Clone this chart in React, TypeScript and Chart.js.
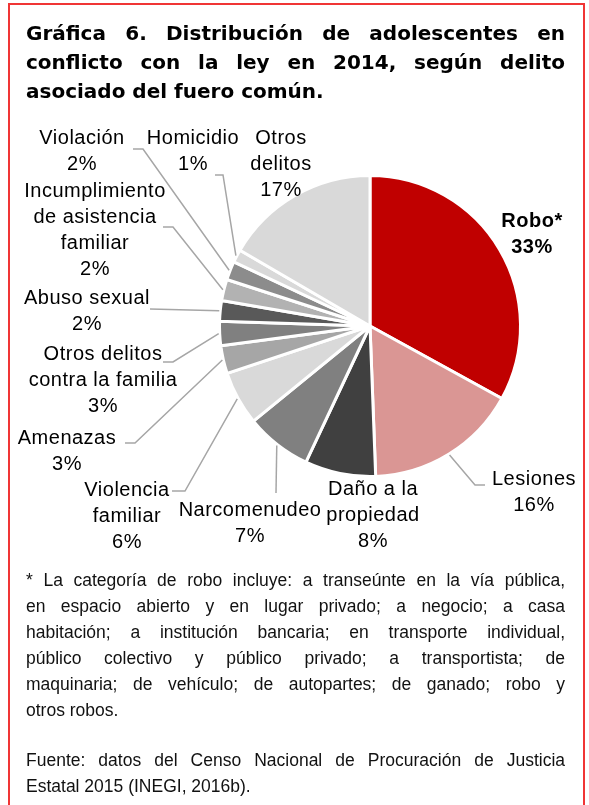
import React, { useEffect, useRef } from 'react';
import { Chart, ArcElement, PieController } from 'chart.js';

Chart.register(ArcElement, PieController);

// ---- Data ----
const categories = [
  'Robo*',
  'Lesiones',
  'Daño a la propiedad',
  'Narcomenudeo',
  'Violencia familiar',
  'Amenazas',
  'Otros delitos contra la familia',
  'Abuso sexual',
  'Incumplimiento de asistencia familiar',
  'Violación',
  'Homicidio',
  'Otros delitos',
];
const values = [33.0, 16.4, 7.6, 7.1, 5.8, 3.0, 2.6, 2.2, 2.3, 2.0, 1.4, 16.6];
const labelLines = [
  ['Robo*'],
  ['Lesiones'],
  ['Daño a la', 'propiedad'],
  ['Narcomenudeo'],
  ['Violencia', 'familiar'],
  ['Amenazas'],
  ['Otros delitos', 'contra la familia'],
  ['Abuso sexual'],
  ['Incumplimiento', 'de asistencia', 'familiar'],
  ['Violación'],
  ['Homicidio'],
  ['Otros', 'delitos'],
];
const titleLines = [
  'Gráfica 6. Distribución de adolescentes en',
  'conflicto con la ley en 2014, según delito',
  'asociado del fuero común.',
];
const noteLines = [
  '* La categoría de robo incluye: a transeúnte en la vía pública,',
  'en espacio abierto y en lugar privado; a negocio; a casa',
  'habitación; a institución bancaria; en transporte individual,',
  'público colectivo y público privado; a transportista; de',
  'maquinaria; de vehículo; de autopartes; de ganado; robo y',
  'otros robos.',
];
const sourceLines = [
  'Fuente: datos del Censo Nacional de Procuración de Justicia',
  'Estatal 2015 (INEGI, 2016b).',
];

// ---- Styles / layout ----
const sliceColors = ['#C00000', '#DA9694', '#404040', '#808080', '#D9D9D9', '#A6A6A6', '#808080', '#595959', '#B2B2B2', '#8C8C8C', '#D9D9D9', '#D9D9D9'];
// label block position (x center, y center of first line) and leader line points (canvas px)
const labelLayout: { x: number; y: number; bold?: boolean; pts: number[][] }[] = [
  { x: 532, y: 220, bold: true, pts: [] },
  { x: 534, y: 478, pts: [[475, 485], [485, 485]] },
  { x: 373, y: 488, pts: [] },
  { x: 250, y: 509, pts: [[276, 493]] },
  { x: 127, y: 489, pts: [[185, 491], [172, 491]] },
  { x: 67, y: 437, pts: [[135, 443], [125, 443]] },
  { x: 103, y: 353, pts: [[173, 362], [163, 362]] },
  { x: 87, y: 297, pts: [[150, 309]] },
  { x: 95, y: 190, pts: [[173, 227], [163, 227]] },
  { x: 82, y: 137, pts: [[143, 149], [133, 149]] },
  { x: 193, y: 137, pts: [[223, 175], [215, 175]] },
  { x: 281, y: 137, pts: [] },
];
const LINE_H = 26;
const FONT = '"Liberation Sans", Arial, sans-serif';

const labelsPlugin = {
  id: 'outerLabels',
  afterDraw(chart: any) {
    const ctx = chart.ctx as CanvasRenderingContext2D;
    const meta = chart.getDatasetMeta(0);
    const total = values.reduce((a, b) => a + b, 0);
    ctx.save();
    meta.data.forEach((arc: any, i: number) => {
      const p = arc.getProps(['x', 'y', 'startAngle', 'endAngle', 'outerRadius'], true);
      const mid = (p.startAngle + p.endAngle) / 2;
      const lay = labelLayout[i];
      if (lay.pts.length) {
        const r = p.outerRadius + 1;
        ctx.beginPath();
        ctx.moveTo(p.x + Math.cos(mid) * r, p.y + Math.sin(mid) * r);
        lay.pts.forEach((q) => ctx.lineTo(q[0], q[1]));
        ctx.strokeStyle = '#A6A6A6';
        ctx.lineWidth = 1.5;
        ctx.stroke();
      }
      const pct = Math.round((values[i] * 100) / total) + '%';
      const lines = [...labelLines[i], pct];
      ctx.font = (lay.bold ? 'bold ' : '') + '20px ' + FONT;
      (ctx as any).letterSpacing = '0.5px';
      ctx.fillStyle = '#000';
      ctx.textAlign = 'center';
      ctx.textBaseline = 'alphabetic';
      lines.forEach((t, k) => {
        ctx.fillText(t, lay.x, lay.y + 7 + k * LINE_H);
      });
    });
    ctx.restore();
  },
};

export default function App() {
  const ref = useRef<HTMLCanvasElement>(null);
  useEffect(() => {
    if (!ref.current) return;
    const chart = new Chart(ref.current, {
      type: 'pie',
      data: {
        labels: categories,
        datasets: [
          {
            data: values,
            backgroundColor: sliceColors,
            borderColor: '#FFFFFF',
            borderWidth: 3,
          },
        ],
      },
      options: {
        responsive: false,
        animation: false,
        layout: { padding: { left: 218, right: 67, top: 174, bottom: 327 } },
        plugins: { legend: { display: false }, tooltip: { enabled: false } },
      },
      plugins: [labelsPlugin],
    });
    return () => chart.destroy();
  }, []);

  const justify = (last: boolean): React.CSSProperties => ({
    textAlign: 'justify',
    textAlignLast: last ? 'left' : 'justify',
  });

  return (
    <div style={{ position: 'absolute', left: 0, top: 0, width: 589, height: 805, overflow: 'hidden', background: '#fff' }}>
      <div
        style={{
          position: 'absolute',
          left: 8,
          top: 3,
          width: 577,
          height: 900,
          border: '2px solid #F03535',
          boxSizing: 'border-box',
        }}
      />
      <canvas ref={ref} width={589} height={805} style={{ position: 'absolute', left: 0, top: 0, display: 'block' }} />
      <div
        style={{
          position: 'absolute',
          left: 26,
          top: 19,
          width: 539,
          font: 'bold 20px "DejaVu Sans", sans-serif',
          lineHeight: '29px',
          color: '#000',
        }}
      >
        {titleLines.map((t, i) => (
          <div key={i} style={justify(i === titleLines.length - 1)}>
            {t}
          </div>
        ))}
      </div>
      <div
        style={{
          position: 'absolute',
          left: 26,
          top: 567,
          width: 539,
          font: '17.5px ' + FONT,
          lineHeight: '26px',
          color: '#111',
        }}
      >
        {noteLines.map((t, i) => (
          <div key={'n' + i} style={justify(i === noteLines.length - 1)}>
            {t}
          </div>
        ))}
        <div style={{ height: 24 }} />
        {sourceLines.map((t, i) => (
          <div key={'s' + i} style={justify(i === sourceLines.length - 1)}>
            {t}
          </div>
        ))}
      </div>
    </div>
  );
}
